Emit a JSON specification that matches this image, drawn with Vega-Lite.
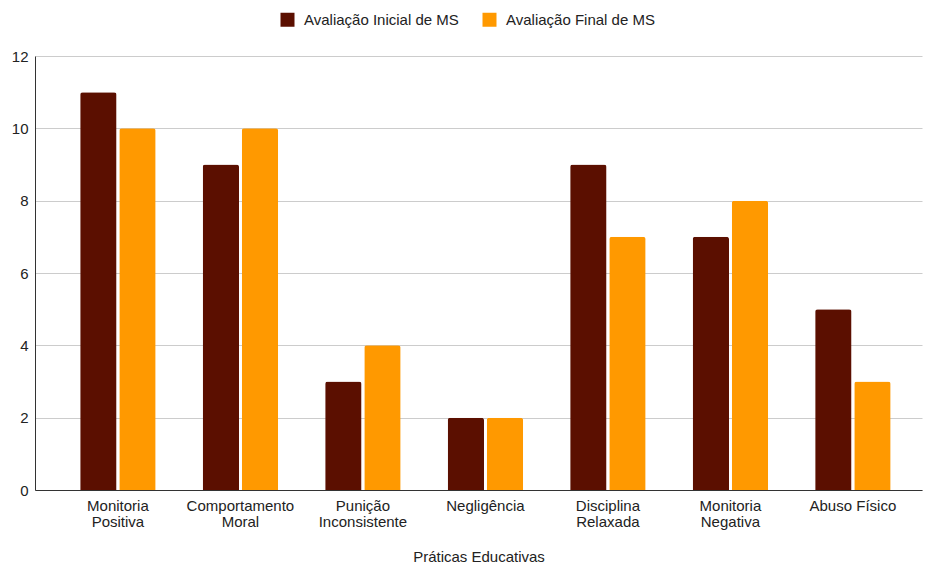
{
  "$schema": "https://vega.github.io/schema/vega-lite/v6.json",
  "width": 887,
  "height": 434,
  "autosize": {"type": "none"},
  "padding": {"left": 35, "top": 56, "right": 4, "bottom": 75},
  "background": "white",
  "config": {
    "font": "Liberation Sans",
    "view": {"stroke": null},
    "axis": {"labelFont": "Liberation Sans", "titleFont": "Liberation Sans", "labelColor": "#222222", "titleColor": "#222222"}
  },
  "data": {
    "values": [
      {"pratica": "Monitoria Positiva", "serie": "Avaliação Inicial de MS", "valor": 11},
      {"pratica": "Monitoria Positiva", "serie": "Avaliação Final de MS", "valor": 10},
      {"pratica": "Comportamento Moral", "serie": "Avaliação Inicial de MS", "valor": 9},
      {"pratica": "Comportamento Moral", "serie": "Avaliação Final de MS", "valor": 10},
      {"pratica": "Punição Inconsistente", "serie": "Avaliação Inicial de MS", "valor": 3},
      {"pratica": "Punição Inconsistente", "serie": "Avaliação Final de MS", "valor": 4},
      {"pratica": "Negligência", "serie": "Avaliação Inicial de MS", "valor": 2},
      {"pratica": "Negligência", "serie": "Avaliação Final de MS", "valor": 2},
      {"pratica": "Disciplina Relaxada", "serie": "Avaliação Inicial de MS", "valor": 9},
      {"pratica": "Disciplina Relaxada", "serie": "Avaliação Final de MS", "valor": 7},
      {"pratica": "Monitoria Negativa", "serie": "Avaliação Inicial de MS", "valor": 7},
      {"pratica": "Monitoria Negativa", "serie": "Avaliação Final de MS", "valor": 8},
      {"pratica": "Abuso Físico", "serie": "Avaliação Inicial de MS", "valor": 5},
      {"pratica": "Abuso Físico", "serie": "Avaliação Final de MS", "valor": 3}
    ]
  },
  "mark": {"type": "bar", "cornerRadiusTopLeft": 2.5, "cornerRadiusTopRight": 2.5},
  "encoding": {
    "x": {
      "field": "pratica",
      "type": "nominal",
      "sort": null,
      "scale": {"paddingInner": 0.384, "paddingOuter": 0.3125, "align": 0.59},
      "axis": {
        "title": "Práticas Educativas",
        "titleFontSize": 15,
        "titleFontWeight": "normal",
        "titlePadding": 20,
        "labelAngle": 0,
        "labelFontSize": 15,
        "labelLineHeight": 16,
        "labelPadding": 8,
        "labelLimit": 200,
        "ticks": false,
        "domainColor": "#333333",
        "domainWidth": 1,
        "labelExpr": "datum.label == 'Negligência' || datum.label == 'Abuso Físico' ? datum.label : split(datum.label, ' ')"
      }
    },
    "xOffset": {
      "field": "serie",
      "type": "nominal",
      "sort": ["Avaliação Inicial de MS", "Avaliação Final de MS"],
      "scale": {"paddingInner": 0.07}
    },
    "y": {
      "field": "valor",
      "type": "quantitative",
      "scale": {"domain": [0, 12], "nice": false},
      "axis": {
        "title": null,
        "values": [0, 2, 4, 6, 8, 10, 12],
        "labelFontSize": 15,
        "labelPadding": 7,
        "ticks": false,
        "domain": true,
        "domainColor": "#333333",
        "gridColor": "#cccccc",
        "gridWidth": 1
      }
    },
    "color": {
      "field": "serie",
      "type": "nominal",
      "sort": ["Avaliação Inicial de MS", "Avaliação Final de MS"],
      "scale": {"domain": ["Avaliação Inicial de MS", "Avaliação Final de MS"], "range": ["#5b0f00", "#ff9900"]},
      "legend": {
        "title": null,
        "orient": "none",
        "direction": "horizontal",
        "legendX": 245,
        "legendY": -44,
        "symbolType": "square",
        "symbolSize": 196,
        "symbolStrokeWidth": 0,
        "labelFontSize": 15,
        "labelColor": "#222222",
        "labelOffset": 9,
        "columnPadding": 23,
        "padding": 0
      }
    }
  }
}
